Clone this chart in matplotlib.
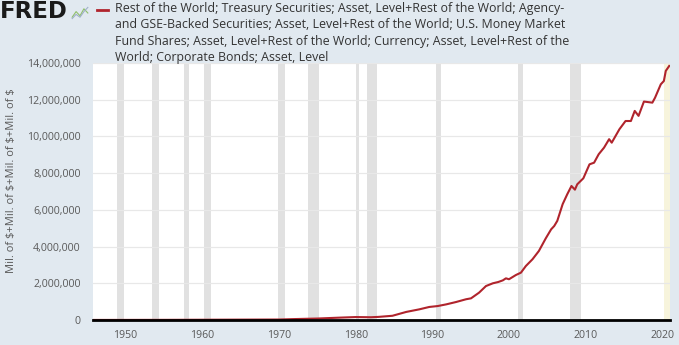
import matplotlib.pyplot as plt
import matplotlib.ticker as mticker
import numpy as np

# Foreign holdings, sum of five Z.1 series, millions of dollars
years = [1945.75, 1950.0, 1955.0, 1960.0, 1965.0, 1970.0, 1972.0, 1975.0,
         1978.0, 1980.0, 1982.0, 1983.0, 1984.8, 1986.6, 1988.3, 1989.6,
         1990.7, 1991.8, 1993.1, 1994.4, 1995.05, 1996.1, 1997.0, 1997.9,
         1998.6, 1999.2, 1999.6, 2000.0, 2000.9, 2001.56, 2002.2, 2003.07,
         2003.9, 2004.8, 2005.5, 2005.9, 2006.3, 2007.0, 2007.6, 2008.15,
         2008.6, 2008.9, 2009.7, 2010.5, 2011.1, 2011.7, 2012.4, 2013.06,
         2013.4, 2014.4, 2015.2, 2015.9, 2016.4, 2016.9, 2017.6, 2018.7,
         2019.05, 2019.8, 2020.2, 2020.45, 2020.9]
values = [3000, 5000, 8000, 14000, 20000, 26000, 50000, 80000,
          130000, 160000, 150000, 170000, 230000, 440000, 580000, 710000,
          760000, 850000, 980000, 1130000, 1180000, 1490000, 1850000, 2000000,
          2070000, 2160000, 2270000, 2220000, 2450000, 2580000, 2940000, 3310000,
          3760000, 4450000, 4940000, 5120000, 5400000, 6310000, 6850000, 7300000,
          7100000, 7390000, 7720000, 8480000, 8570000, 9030000, 9390000, 9850000,
          9660000, 10390000, 10840000, 10840000, 11390000, 11120000, 11900000, 11840000,
          12110000, 12840000, 13020000, 13570000, 13840000]

# NBER recession periods
recessions = [(1948.83, 1949.75), (1953.5, 1954.33), (1957.58, 1958.33),
              (1960.25, 1961.08), (1969.92, 1970.83), (1973.83, 1975.17),
              (1980.0, 1980.5), (1981.5, 1982.83), (1990.5, 1991.17),
              (2001.17, 2001.83), (2007.92, 2009.42)]

legend_text = ("Rest of the World; Treasury Securities; Asset, Level+Rest of the World; Agency-\n"
               "and GSE-Backed Securities; Asset, Level+Rest of the World; U.S. Money Market\n"
               "Fund Shares; Asset, Level+Rest of the World; Currency; Asset, Level+Rest of the\n"
               "World; Corporate Bonds; Asset, Level")
y_label = r'Mil. of \$+Mil. of \$+Mil. of \$+Mil. of \$'

plt.rcParams['font.family'] = ['Open Sans', 'DejaVu Sans']
bg = '#e1e9f0'
red = '#b0242c'
grey = '#595959'

fig = plt.figure(figsize=(6.79, 3.45), dpi=100, facecolor=bg)
ax = fig.add_axes([93 / 679, 25 / 345, 577 / 679, 257 / 345])
ax.set_facecolor('white')

for start, end in recessions:
    ax.axvspan(start, end, color='#e1e1e1', lw=0, zorder=1)
ax.axvspan(2020.2, 2021.0, color='#f7f4dc', lw=0, zorder=1)

ax.plot(years, values, color=red, lw=1.5, zorder=3)

ax.set_xlim(1945.75, 2021.0)
ax.set_ylim(0, 14000000)
ax.set_xticks(np.arange(1950, 2021, 10))
ax.set_yticks(np.arange(0, 14000001, 2000000))
ax.yaxis.set_major_formatter(mticker.FuncFormatter(lambda v, p: f'{int(v):,}'))
ax.grid(axis='y', color='#e8e8e8', lw=0.9, zorder=0)
ax.tick_params(axis='both', length=0, labelsize=7.6, labelcolor=grey)
ax.tick_params(axis='y', pad=9)
ax.tick_params(axis='x', pad=7)
for side in ['top', 'right', 'left']:
    ax.spines[side].set_visible(False)
ax.spines['bottom'].set_color('black')
ax.spines['bottom'].set_linewidth(2.0)
ax.spines['bottom'].set_zorder(4)

fig.text(12 / 679, 1 - 181 / 345, y_label, fontsize=8, color=grey,
         rotation=90, ha='center', va='center')

# logo and legend header
fig.text(0, 1 - 12 / 345, 'FRED', fontsize=16.5, fontweight='heavy',
         family='DejaVu Sans', color='#1a1a1a', va='center', ha='left')
icon = fig.add_axes([71 / 679, 1 - 20 / 345, 18 / 679, 14 / 345])
icon.set_facecolor('#e8ece6')
icon.plot([0, 1, 2, 3, 4], [0.2, 0.6, 0.3, 0.8, 0.5], color='#8fbf6a', lw=0.8)
icon.plot([0, 1, 2, 3, 4], [0.1, 0.4, 0.2, 0.6, 0.9], color='#9fb0c8', lw=0.8)
icon.set_xlim(-0.3, 4.3)
icon.set_ylim(0, 1)
icon.axis('off')
fig.lines.append(plt.Line2D([97 / 679, 108 / 679], [1 - 10 / 345] * 2,
                            transform=fig.transFigure, color=red, lw=2))
fig.text(115 / 679, 1 - 2 / 345, legend_text, fontsize=8.9, color='#333333',
         va='top', ha='left', linespacing=1.33)

fig.savefig('out.png', dpi=100, facecolor=bg)
